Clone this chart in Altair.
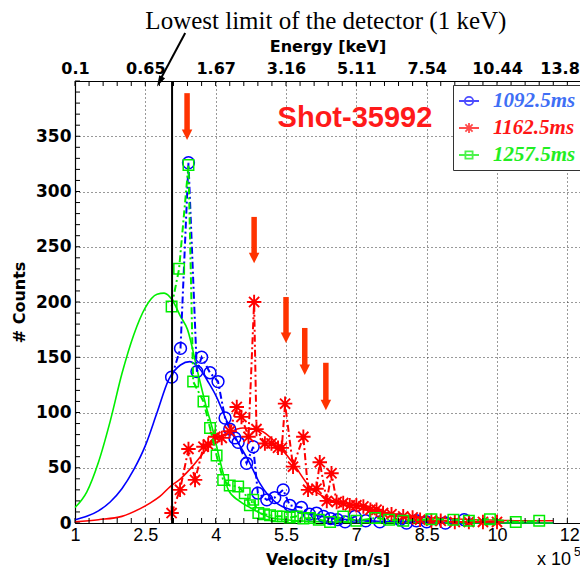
import altair as alt
import pandas as pd

# ---------------- data ----------------
series_names = ["1092.5ms", "1162.5ms", "1257.5ms"]
line_colors = ["#0000ff", "#ff0000", "#00ee00"]
text_colors = ["#3f6ff5", "#ff1515", "#22ee22"]

# raw measured counts (velocity in 1e5 m/s)
blue_v = [3.06, 3.25, 3.42, 3.60, 3.70, 3.88, 4.05, 4.20, 4.30, 4.41, 4.48, 4.66, 4.80, 4.90, 5.09, 5.26, 5.44, 5.58, 5.83, 6.00,
          6.15, 6.30, 6.45, 6.60, 6.76, 6.97, 7.20, 7.50, 7.93, 8.07, 8.28, 8.50, 8.90, 9.30]
blue_n = [132, 158, 326, 137, 150, 136, 128, 95, 85, 77, 73, 54, 69, 27, 21, 23, 30, 16, 14, 8,
          9, 6, 4, 3, 1, 6, 2, 1, 3, 0, 2, 1, 0, 3]

red_v = [3.06, 3.24, 3.42, 3.56, 3.74, 3.84, 3.99, 4.13, 4.30, 4.45, 4.55, 4.70, 4.82, 4.87, 5.05, 5.19, 5.33, 5.41, 5.48, 5.65,
         5.87, 5.97, 6.15, 6.22, 6.37, 6.47, 6.58, 6.72, 6.86, 7.00, 7.15, 7.30, 7.43, 7.57, 7.75, 8.00, 8.20, 8.36, 8.60, 8.80,
         9.10, 9.40, 9.70, 10.00]
red_n = [9, 30, 67, 39, 69, 71, 78, 77, 83, 105, 96, 78, 200, 85, 72, 72, 68, 68, 108, 51,
         78, 30, 31, 55, 20, 45, 19, 18, 16, 16, 15, 12, 12, 9, 8, 6, 5, 3, 2, 2,
         1, 1, 1, 1]

green_v = [3.06, 3.22, 3.42, 3.52, 3.74, 3.88, 4.02, 4.16, 4.30, 4.48, 4.62, 4.73, 4.80, 4.91, 5.03, 5.16, 5.30, 5.43, 5.58, 5.73,
           5.87, 6.01, 6.20, 6.44, 6.72, 7.00, 7.40, 7.70, 8.00, 8.60, 9.07, 9.40, 9.85, 10.40, 10.90]
green_n = [196, 230, 324, 128, 110, 86, 61, 39, 34, 33, 27, 16, 21, 9, 8, 7, 6, 6, 5, 6,
           4, 4.5, 3, 1, 6, 2, 4.5, 3, 2, 3.5, 3, 2, 3.5, 1, 2]

# fitted distributions
blue_fit_v = [1.0, 1.25, 1.5, 1.75, 2.0, 2.25, 2.5, 2.75, 3.0, 3.25, 3.45, 3.65, 3.85, 4.02, 4.23, 4.45, 4.73, 4.94, 5.3, 5.8,
              6.5, 7.0, 8.0, 9.0, 10.0, 11.2]
blue_fit_n = [3, 6, 11, 19, 31, 48, 70, 100, 130, 143, 146, 140, 127, 114, 93, 75, 54, 36, 18, 10,
              4.5, 2.5, 1, 0.5, 0.2, 0]
red_fit_v = [1.0, 1.5, 2.0, 2.39, 2.6, 2.81, 3.03, 3.25, 3.5, 3.75, 4.0, 4.23, 4.58, 4.94, 5.3, 5.65, 6.0, 6.44, 6.86, 7.5,
             8.0, 8.5, 9.0, 9.5, 10.0, 10.5, 11.2]
red_fit_n = [1, 3, 6, 13, 18, 24, 33, 40, 51, 64, 76, 81, 86, 84, 72, 54, 33, 21, 15, 10,
             7, 5, 4, 3, 2.5, 2, 2]
green_fit_v = [1.0, 1.25, 1.5, 1.75, 2.0, 2.25, 2.5, 2.75, 2.9, 3.07, 3.25, 3.4, 3.62, 3.8, 3.94, 4.1, 4.27, 4.5, 4.73, 5.0,
               5.16, 5.5, 6.0, 7.0, 8.0, 9.0, 10.0, 11.2]
green_fit_n = [14, 28, 55, 92, 135, 170, 195, 207, 208, 202, 187, 175, 136, 105, 84, 55, 30, 20, 14, 8,
               5, 3, 1.5, 0.5, 0.2, 0.1, 0, 0]

# axes
vel_ticks = [1, 2.5, 4, 5.5, 7, 8.5, 10, 11.5]
energy_labels = ["0.1", "0.65", "1.67", "3.16", "5.11", "7.54", "10.44", "13.8"]
count_ticks = [0, 50, 100, 150, 200, 250, 300, 350]
x_minor = [round(1 + 0.3 * i, 2) for i in range(36)]
y_minor = [10 * i for i in range(41)]

# annotations
detector_v = [3.07]
arrow_v = [3.39, 4.82, 5.5, 5.9, 6.35]
arrow_top = [389, 277, 204.5, 176.5, 145]
arrow_tip = [346.6, 235, 163, 134, 102]
note_text = ["Lowest limit of the detector (1 keV)"]
note_v = [6.35]
note_n = [447]
pointer_v = [3.35]
pointer_n = [443.4]
pointer_v2 = [2.84]
pointer_n2 = [403]
pointer_tip_v = [2.75]
pointer_tip_n = [395]
shot_text = ["Shot-35992"]
shot_v = [6.97]
shot_n = [366.5]

# ---------------- chart ----------------
W, H = 505, 442
xs = alt.Scale(domain=[1, 11.77], nice=False, zero=False)
ys = alt.Scale(domain=[0, 400], nice=False, zero=False)

STAR = "M-1,0L1,0M0,-1L0,1M-0.7,-0.7L0.7,0.7M-0.7,0.7L0.7,-0.7"
marker_shapes = ["circle", STAR, "square"]
marker_sizes = [140, 210, 110]
marker_widths = [1.5, 1.9, 1.5]
legend_paths = [
    "M-1,0L1,0M-0.42,0A0.42,0.42 0 1,0 0.42,0A0.42,0.42 0 1,0 -0.42,0",
    "M-1,0L1,0M0,-0.5L0,0.5M-0.36,-0.36L0.36,0.36M-0.36,0.36L0.36,-0.36",
    "M-1,0L1,0M-0.36,-0.36L0.36,-0.36L0.36,0.36L-0.36,0.36Z",
]

last_tick_test = "datum.value >= 11.4"
edge_align = {"condition": {"test": last_tick_test, "value": "right"}, "value": "center"}
edge_offset = {"condition": {"test": last_tick_test, "value": 12}, "value": 0}

bottom_axis = alt.Axis(
    orient="bottom", values=vel_ticks, format="~g", title="Velocity [m/s]",
    labelFont="Liberation Sans", labelFontSize=18, labelColor="black", labelPadding=3,
    labelAlign=edge_align, labelOffset=edge_offset,
    ticks=False, tickSize=0, domainColor="black", domainWidth=1.2,
    grid=True, gridColor="#333333", gridDash=[1, 3], gridWidth=1, gridOpacity=1,
    titleFont="DejaVu Sans", titleFontSize=16, titleFontWeight="bold", titleColor="black",
    titlePadding=7, labelFlush=False,
)
label_array = "[" + ",".join("'" + s + "'" for s in energy_labels) + "]"
top_axis = alt.Axis(
    orient="top", values=vel_ticks, labelExpr=label_array + "[round((datum.value - 1) / 1.5)]",
    title="Energy [keV]", labelFont="DejaVu Sans", labelFontSize=16, labelFontWeight="bold",
    labelAlign=edge_align, labelOffset=edge_offset,
    labelColor="black", labelPadding=5, ticks=False, tickSize=0, domainColor="black", domainWidth=1.2,
    grid=False, titleFont="DejaVu Sans", titleFontSize=16, titleFontWeight="bold", titleColor="black",
    titlePadding=6, labelFlush=False,
)
left_axis = alt.Axis(
    orient="left", values=count_ticks, format="d", title="# Counts",
    labelFont="DejaVu Sans", labelFontSize=17, labelFontWeight="bold", labelColor="black", labelPadding=4,
    ticks=False, tickSize=0, domainColor="black", domainWidth=1.2,
    grid=True, gridColor="#333333", gridDash=[1, 3], gridWidth=1, gridOpacity=1,
    titleFont="DejaVu Sans", titleFontSize=16, titleFontWeight="bold", titleColor="black", titlePadding=8,
)

layers = []
raw = [(blue_v, blue_n), (red_v, red_n), (green_v, green_n)]
fits = [(blue_fit_v, blue_fit_n), (red_fit_v, red_fit_n), (green_fit_v, green_fit_n)]

# fitted curves
for i, (fv, fn) in enumerate(fits):
    df = pd.DataFrame({"v": fv, "n": fn})
    layers.append(
        alt.Chart(df).mark_line(color=line_colors[i], strokeWidth=1.6, interpolate="monotone").encode(
            x=alt.X("v:Q", scale=xs, axis=bottom_axis if i == 0 else None),
            y=alt.Y("n:Q", scale=ys, axis=left_axis if i == 0 else None),
        )
    )

# raw data: dash-dot lines + markers
for i, (rv, rn) in enumerate(raw):
    df = pd.DataFrame({"v": rv, "n": rn})
    base = alt.Chart(df).encode(
        x=alt.X("v:Q", scale=xs, axis=None), y=alt.Y("n:Q", scale=ys, axis=None)
    )
    layers.append(base.mark_line(color=line_colors[i], strokeWidth=2, strokeDash=[7, 3, 2, 3]))
    layers.append(base.mark_point(shape=marker_shapes[i], size=marker_sizes[i], filled=False,
                                  color=line_colors[i], strokeWidth=marker_widths[i], opacity=1))

# detector limit line (carries the top energy axis)
layers.append(
    alt.Chart(pd.DataFrame({"v": detector_v})).mark_rule(color="black", strokeWidth=2).encode(
        x=alt.X("v:Q", scale=xs, axis=top_axis)
    )
)

# red arrows
arr_df = pd.DataFrame({"v": arrow_v, "top": arrow_top, "tip": arrow_tip})
arr_base = alt.Chart(arr_df).transform_calculate(shaft_end="datum.tip + 8")
layers.append(arr_base.mark_rule(color="#ff3300", strokeWidth=5.5).encode(
    x=alt.X("v:Q", scale=xs, axis=None), y=alt.Y("top:Q", scale=ys, axis=None), y2="shaft_end:Q"))
layers.append(arr_base.mark_point(shape="M0,0L-1,-2L1,-2Z", size=110, filled=True, color="#ff3300",
                                  opacity=1, strokeWidth=0).encode(
    x=alt.X("v:Q", scale=xs, axis=None), y=alt.Y("tip:Q", scale=ys, axis=None)))

# black pointer arrow + annotation text
ptr_df = pd.DataFrame({"v": pointer_v, "n": pointer_n, "v2": pointer_v2, "n2": pointer_n2,
                       "tv": pointer_tip_v, "tn": pointer_tip_n})
layers.append(alt.Chart(ptr_df).mark_rule(color="black", strokeWidth=2).encode(
    x=alt.X("v:Q", scale=xs, axis=None), y=alt.Y("n:Q", scale=ys, axis=None), x2="v2:Q", y2="n2:Q"))
layers.append(alt.Chart(ptr_df).mark_point(shape="M0,0L0.6,2L-0.6,2Z", size=121, filled=True, color="black",
                                           opacity=1, angle=207.8, strokeWidth=0).encode(
    x=alt.X("tv:Q", scale=xs, axis=None), y=alt.Y("tn:Q", scale=ys, axis=None)))
layers.append(alt.Chart(pd.DataFrame({"t": note_text, "v": note_v, "n": note_n})).mark_text(
    font="Liberation Serif", fontSize=25, color="black", align="center", baseline="alphabetic").encode(
    x=alt.X("v:Q", scale=xs, axis=None), y=alt.Y("n:Q", scale=ys, axis=None), text="t:N"))
layers.append(alt.Chart(pd.DataFrame({"t": shot_text, "v": shot_v, "n": shot_n})).mark_text(
    font="Liberation Sans", fontSize=29, fontWeight="bold", color="#ff1a1a", align="center",
    baseline="middle").encode(
    x=alt.X("v:Q", scale=xs, axis=None), y=alt.Y("n:Q", scale=ys, axis=None), text="t:N"))

# inward ticks
xt = alt.Chart(pd.DataFrame({"t": x_minor}))
layers.append(xt.mark_rule(color="black", strokeWidth=1).encode(
    x=alt.X("t:Q", scale=xs, axis=None), y=alt.value(H), y2=alt.value(H - 5)))
layers.append(xt.mark_rule(color="black", strokeWidth=1).encode(
    x=alt.X("t:Q", scale=xs, axis=None), y=alt.value(0), y2=alt.value(5)))
yt = alt.Chart(pd.DataFrame({"t": y_minor}))
layers.append(yt.mark_rule(color="black", strokeWidth=1).encode(
    y=alt.Y("t:Q", scale=ys, axis=None), x=alt.value(0), x2=alt.value(5)))

# x 10^5 multiplier
layers.append(alt.Chart(pd.DataFrame({"t": ["x 10"]})).mark_text(
    font="Liberation Sans", fontSize=18, align="left", baseline="middle", color="black").encode(
    text="t:N", x=alt.value(462), y=alt.value(479)))
layers.append(alt.Chart(pd.DataFrame({"t": ["5"]})).mark_text(
    font="Liberation Sans", fontSize=12, align="left", baseline="middle", color="black").encode(
    text="t:N", x=alt.value(499), y=alt.value(471)))

# legend (scale-driven, no visible marks)
color_expr = " : ".join(
    f"datum.value === '{n}' ? '{c}'" for n, c in zip(series_names[:-1], text_colors[:-1])
) + f" : '{text_colors[-1]}'"
leg = alt.Legend(
    orient="none", legendX=378, legendY=4, title=None, fillColor="white", strokeColor="#333333",
    padding=5, symbolSize=400, symbolStrokeWidth=1.8, labelFont="Liberation Serif", labelFontSize=21,
    labelFontStyle="italic", labelFontWeight="bold", labelColor=alt.ExprRef(color_expr),
    labelOffset=13, rowPadding=6, labelLimit=300, cornerRadius=0,
)
layers.append(
    alt.Chart(pd.DataFrame({"series": series_names})).transform_filter("false").mark_point(
        filled=False, strokeWidth=1.8).encode(
        color=alt.Color("series:N", scale=alt.Scale(domain=series_names, range=line_colors), legend=leg),
        shape=alt.Shape("series:N", scale=alt.Scale(domain=series_names, range=legend_paths), legend=leg),
    )
)

chart = alt.layer(*layers).resolve_axis(x="independent", y="independent").properties(
    width=W, height=H,
    padding={"left": 67, "top": 73, "right": 0, "bottom": 46},
    autosize=alt.AutoSizeParams(type="none"),
    background="white",
).configure_view(stroke=None)

chart.save("out.html", embed_options={"renderer": "svg", "actions": False})
